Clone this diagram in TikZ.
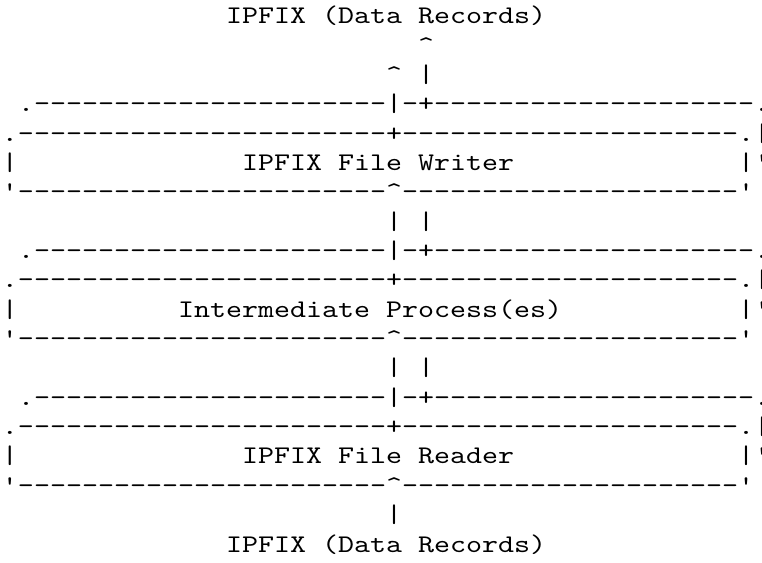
\documentclass[tikz,border=0pt]{standalone}
\usepackage{fontspec}
% a serif typewriter face, widened to a 6pt character pitch
\newfontfamily\typewriter[Extension=.otf, FakeStretch=1.2]{lmmono10-regular}

% a run of n hyphens
\ExplSyntaxOn
\cs_new:Npn \dashrun #1 { \prg_replicate:nn {#1} {-} }
\ExplSyntaxOff

% the three rims of each stacked box
\newcommand\backrim{.\dashrun{22}|-+\dashrun{20}.}
\newcommand\frontrim{.\dashrun{23}+\dashrun{21}.|}
\newcommand\lowrim{'\dashrun{23}\textasciicircum\dashrun{21}'}

% place a run of characters: name, column, row, text
\newcommand\putrun[4]{\node[glyphs] (#1) at ({#2+0.125},{#3-0.1818}) {#4};}

\begin{document}
\begin{tikzpicture}[x=6pt, y=-11pt,
  glyphs/.style={anchor=base west, inner sep=0pt, outer sep=0pt,
                 font=\typewriter\fontsize{9.524pt}{11pt}\selectfont}]
\useasboundingbox (0,0) rectangle (47.625,19.193);

\putrun{top}{14}{1}{IPFIX (Data Records)}
\putrun{outtip}{26}{2}{\textasciicircum}
\putrun{backtip}{24}{3}{\textasciicircum}
\putrun{outstem}{26}{3}{|}

% writer
\putrun{wback}{1}{4}{\backrim}
\putrun{wfront}{0}{5}{\frontrim}
\putrun{wleft}{0}{6}{|}
\putrun{writer}{15}{6}{IPFIX File Writer}
\putrun{wright}{46}{6}{|'}
\putrun{wlow}{0}{7}{\lowrim}
\putrun{linkA}{24}{8}{| |}

% intermediate
\putrun{iback}{1}{9}{\backrim}
\putrun{ifront}{0}{10}{\frontrim}
\putrun{ileft}{0}{11}{|}
\putrun{inter}{11}{11}{Intermediate Process(es)}
\putrun{iright}{46}{11}{|'}
\putrun{ilow}{0}{12}{\lowrim}
\putrun{linkB}{24}{13}{| |}

% reader
\putrun{rback}{1}{14}{\backrim}
\putrun{rfront}{0}{15}{\frontrim}
\putrun{rleft}{0}{16}{|}
\putrun{reader}{15}{16}{IPFIX File Reader}
\putrun{rright}{46}{16}{|'}
\putrun{rlow}{0}{17}{\lowrim}
\putrun{instem}{24}{18}{|}

\putrun{bottom}{14}{19}{IPFIX (Data Records)}
\end{tikzpicture}
\end{document}
